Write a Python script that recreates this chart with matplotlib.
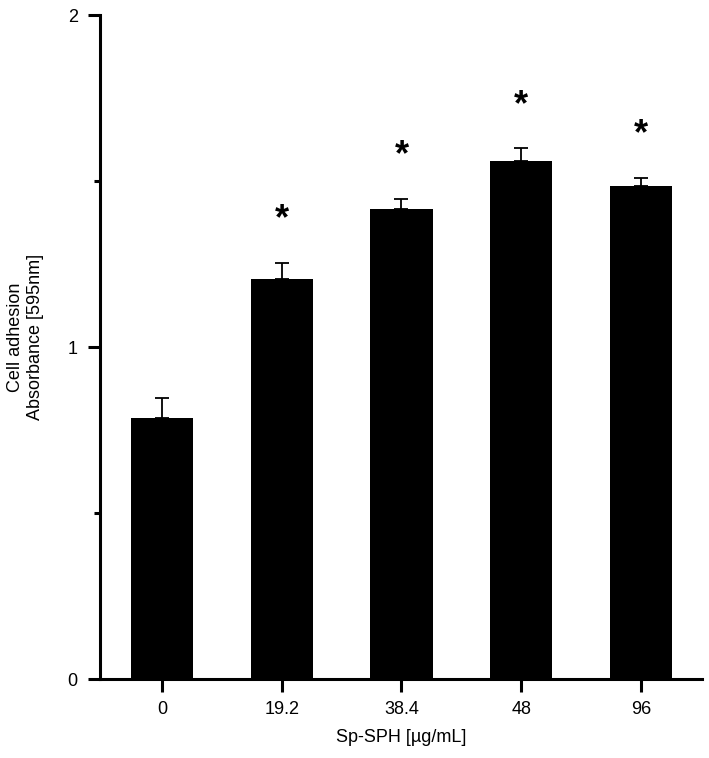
import matplotlib.pyplot as plt
from matplotlib.ticker import MultipleLocator

plt.rcParams['font.family'] = ['Liberation Sans', 'DejaVu Sans']

# Sp-SPH concentrations and measured absorbance
concentrations = ["0", "19.2", "38.4", "48", "96"]
absorbance = [0.787, 1.204, 1.415, 1.560, 1.486]
sd = [0.060, 0.049, 0.031, 0.038, 0.023]
significant = [False, True, True, True, True]

fig = plt.figure(figsize=(7.09, 7.58), dpi=100)
ax = fig.add_axes([0.141, 0.1042, 0.849, 0.8760])

x = list(range(len(concentrations)))
ax.bar(x, absorbance, width=0.52, color="black", zorder=2)
ax.errorbar(x, absorbance, yerr=[[0] * len(sd), sd], fmt="none",
            ecolor="black", elinewidth=1.3, capsize=5, capthick=1.3, zorder=1)

# significance markers above error bars
for xi, val, err, sig in zip(x, absorbance, sd, significant):
    if sig:
        ax.text(xi, val + err + 0.13, "*", ha="center", va="center",
                fontsize=26, fontweight="bold")

ax.set_xlim(-0.517, 4.508)
ax.set_ylim(0, 2)
ax.set_xticks(x)
ax.set_xticklabels(concentrations)
ax.set_yticks([0, 1, 2])
ax.yaxis.set_minor_locator(MultipleLocator(0.5))

for side in ["top", "right"]:
    ax.spines[side].set_visible(False)
for side in ["left", "bottom"]:
    ax.spines[side].set_linewidth(2.2)

ax.tick_params(axis="both", which="major", length=9, width=2.2,
               labelsize=13, pad=7)
ax.tick_params(axis="y", which="minor", length=4, width=2.2)

ax.set_xlabel("Sp-SPH [µg/mL]", fontsize=13, labelpad=8)
ax.set_ylabel("Cell adhesion\nAbsorbance [595nm]", fontsize=13)
ax.yaxis.set_label_coords(-0.093, 0.515)

fig.savefig("out.png", dpi=100)
